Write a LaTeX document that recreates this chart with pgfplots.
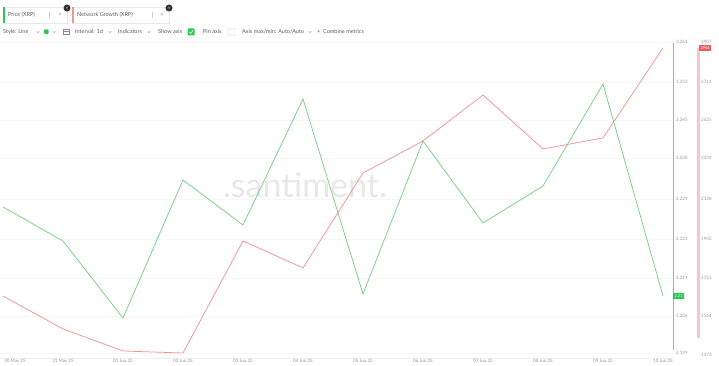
\documentclass[border=0pt]{standalone}
\usepackage{fontspec}
\setmainfont{Lato}
\usepackage{pgfplots}
\pgfplotsset{compat=1.18}
\definecolor{lgreen}{RGB}{120,208,128}
\definecolor{lred}{RGB}{242,148,148}
\definecolor{sgreen}{RGB}{38,201,83}
\definecolor{txt}{RGB}{120,126,138}
\definecolor{tb}{RGB}{85,90,100}
\definecolor{pinkbar}{RGB}{248,196,200}
\definecolor{redbox}{RGB}{232,90,100}
\newcommand{\tf}{\fontsize{5.5}{6}\selectfont}
\newcommand{\chev}[2]{\draw[tb!70, line width=0.4pt] (#1-1.3,#2+0.7)--(#1,#2-0.6)--(#1+1.3,#2+0.7);}
\begin{document}
\begin{tikzpicture}[x=1pt,y=1pt]
\useasboundingbox (0,0) rectangle (719,366);
\fill[white] (0,0) rectangle (719,366);
% watermark
\node[text=gray!18, font=\fontsize{34}{36}\selectfont] at (305,181) {.santiment.};
% bottom axis line
\draw[gray!12] (0,8) -- (673,8);

\begin{axis}[at={(0pt,8pt)}, anchor=south west, scale only axis,
  width=673pt, height=318pt,
  xmin=-0.05, xmax=11.1667, ymin=2.1976, ymax=2.2612,
  axis line style={draw=none}, tick style={draw=none},
  xtick={0.2,1,2,3,4,5,6,7,8,9,10,11},
  xticklabels={30 May 25,31 May 25,01 Jun 25,02 Jun 25,03 Jun 25,04 Jun 25,05 Jun 25,06 Jun 25,07 Jun 25,08 Jun 25,09 Jun 25,10 Jun 25},
  xticklabel style={font=\fontsize{4.5}{5}\selectfont, text=txt!80, inner sep=1pt},
  ytick pos=right,
  ytick={2.2608,2.2528,2.2452,2.2376,2.2294,2.2214,2.2136,2.2060,2.1986},
  yticklabels={2.261,2.253,2.245,2.238,2.229,2.221,2.214,2.206,2.199},
  yticklabel style={font=\fontsize{4.5}{5}\selectfont, text=txt!80, anchor=west, inner sep=0pt, xshift=3pt},
  ymajorgrids, grid style={gray!6, line width=0.4pt},
  clip=false]
\addplot[lgreen, line width=0.75pt] coordinates {
(0,2.2278) (1,2.2210) (2,2.2056) (3,2.2332) (4,2.2242) (5,2.2494)
(6,2.2104) (7,2.2410) (8,2.2246) (9,2.2320) (10,2.2524) (11,2.2100)};
\end{axis}

\begin{axis}[at={(0pt,8pt)}, anchor=south west, scale only axis,
  width=673pt, height=318pt,
  xmin=-0.05, xmax=11.1667, ymin=1358.6, ymax=2916.8,
  axis line style={draw=none}, tick style={draw=none},
  xtick=\empty,
  ytick pos=right,
  ytick={2907,2711,2525,2339,2138,1942,1751,1564,1373},
  yticklabels={2907,2711,2525,2339,2138,1942,1751,1564,1373},
  yticklabel style={font=\fontsize{4.5}{5}\selectfont, text=txt!80, anchor=west, inner sep=0pt, xshift=28pt},
  clip=false]
\addplot[lred, line width=0.75pt] coordinates {
(0,1662) (1,1501) (2,1393) (3,1383) (4,1932) (5,1800)
(6,2265) (7,2422) (8,2647) (9,2383) (10,2437) (11,2878)};
\end{axis}

% right axis lines
\draw[lgreen, line width=0.6pt] (673,323) -- (673,16);
\fill[pinkbar] (697,318) rectangle (700,28);
% value boxes
\node[fill=sgreen, text=white, font=\fontsize{4}{4}\selectfont, inner sep=1.3pt, anchor=west] at (673,70) {2.21};
\node[fill=redbox, text=white, font=\fontsize{4}{4}\selectfont, inner sep=1.3pt, anchor=west] at (699,318) {2944};

% toolbar row 1
\draw[gray!18, line width=0.4pt] (3,343) rectangle (67,359);
\fill[sgreen] (3,343) rectangle (5,359);
\node[anchor=west, text=tb, font=\tf, inner sep=0pt] at (8,351) {Price (XRP)};
\draw[gray!40, line width=0.4pt] (49,348)--(49,354);
\node[text=tb!70, font=\tf, inner sep=0pt] at (60,351) {×};
\fill[black!80] (67,358) circle (3.5);
\node[text=white, font=\fontsize{4}{4}\selectfont, inner sep=0pt] at (67,358) {×};
\draw[gray!18, line width=0.4pt] (72,343) rectangle (169,359);
\fill[lred] (72,343) rectangle (73.5,359);
\node[anchor=west, text=tb, font=\tf, inner sep=0pt] at (77,351) {Network Growth (XRP)};
\draw[gray!40, line width=0.4pt] (152,348)--(152,354);
\node[text=tb!70, font=\tf, inner sep=0pt] at (162,351) {×};
\fill[black!80] (169,358) circle (3.5);
\node[text=white, font=\fontsize{4}{4}\selectfont, inner sep=0pt] at (169,358) {×};

% toolbar row 2
\node[anchor=west, text=tb, font=\tf, inner sep=0pt] at (3,334) {Style: Line};
\chev{38}{334}
\fill[sgreen, rounded corners=1pt] (44,332) rectangle (48.5,336.5);
\chev{54}{334}
\draw[tb!70, line width=0.4pt] (63,331.5) rectangle (69,336.5);
\draw[tb!70, line width=0.4pt] (63,335.2)--(69,335.2);
\node[anchor=west, text=tb, font=\tf, inner sep=0pt] at (75,334) {Interval: 1d};
\chev{110}{334}
\node[anchor=west, text=tb, font=\tf, inner sep=0pt] at (118,334) {Indicators};
\chev{149}{334}
\node[anchor=west, text=tb, font=\tf, inner sep=0pt] at (158,334) {Show axis};
\fill[sgreen, rounded corners=0.8pt] (187.5,330.5) rectangle (194.5,337.5);
\draw[white, line width=0.6pt] (189.2,334)--(190.6,332.5)--(193,335.8);
\node[anchor=west, text=tb, font=\tf, inner sep=0pt] at (203,334) {Pin axis};
\draw[gray!35, line width=0.4pt, rounded corners=0.8pt] (228,330.5) rectangle (235,337.5);
\node[anchor=west, text=tb, font=\tf, inner sep=0pt] at (242,334) {Axis max/min: Auto/Auto};
\chev{310}{334}
\node[anchor=west, text=tb, font=\tf, inner sep=0pt] at (317,334) {+ \ Combine metrics};
\end{tikzpicture}
\end{document}
